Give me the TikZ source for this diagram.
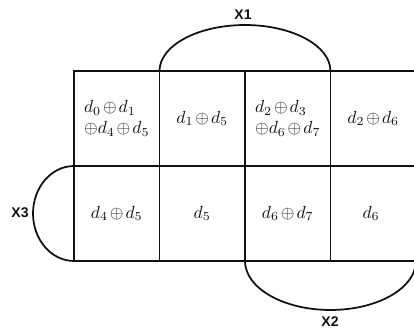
\documentclass[tikz,border=0pt]{standalone}
\usepackage{fontspec}
\setmainfont{Liberation Serif}
\newfontfamily\tagfont{Liberation Sans}
\usetikzlibrary{positioning}
\definecolor{gridInk}{HTML}{111111}
\medmuskip=2mu
\tikzset{
  every node/.style={font=\normalsize, text=gridInk},
  cell/.style={
    draw=gridInk,
    line width=1pt,
    minimum width=1.71cm,
    minimum height=1.9cm,
    inner sep=0pt,
    outer sep=0pt,
    align=left,
    anchor=north west
  },
  loop/.style={draw=gridInk, line width=1pt},
  tag/.style={font=\tagfont\bfseries\footnotesize}
}

\begin{document}
\begin{tikzpicture}[x=0.02cm,y=-0.02cm]
  \useasboundingbox (0,0) rectangle (414,329);

  \foreach \name/\col/\row/\txt in {
    a1/0/0/{$d_0\oplus d_1$\\$\oplus d_4\oplus d_5$},
    b1/1/0/{$d_1\oplus d_5$},
    c1/2/0/{$d_2\oplus d_3$\\$\oplus d_6\oplus d_7$},
    d1/3/0/{$d_2\oplus d_6$},
    a2/0/1/{$d_4\oplus d_5$},
    b2/1/1/{$d_5$},
    c2/2/1/{$d_6\oplus d_7$},
    d2/3/1/{$d_6$}
  }{
    \node[cell] (\name) at ({74+85.5*\col},{71+95*\row}) {\txt};
  }

  % the three loops
  \draw[loop] (b1.north west) arc[start angle=180, end angle=0, x radius=1.71cm, y radius=0.92cm];
  \draw[loop] (c2.south west) arc[start angle=180, end angle=360, x radius=1.71cm, y radius=0.98cm];
  \draw[loop] (a2.north west) arc[start angle=90, end angle=270, x radius=0.82cm, y radius=0.95cm];

  \node[tag] (x1) at (243,15) {X1};
  \node[tag] (x2) at (330,322) {X2};
  \node[tag] (x3) at (20,213) {X3};
\end{tikzpicture}
\end{document}
